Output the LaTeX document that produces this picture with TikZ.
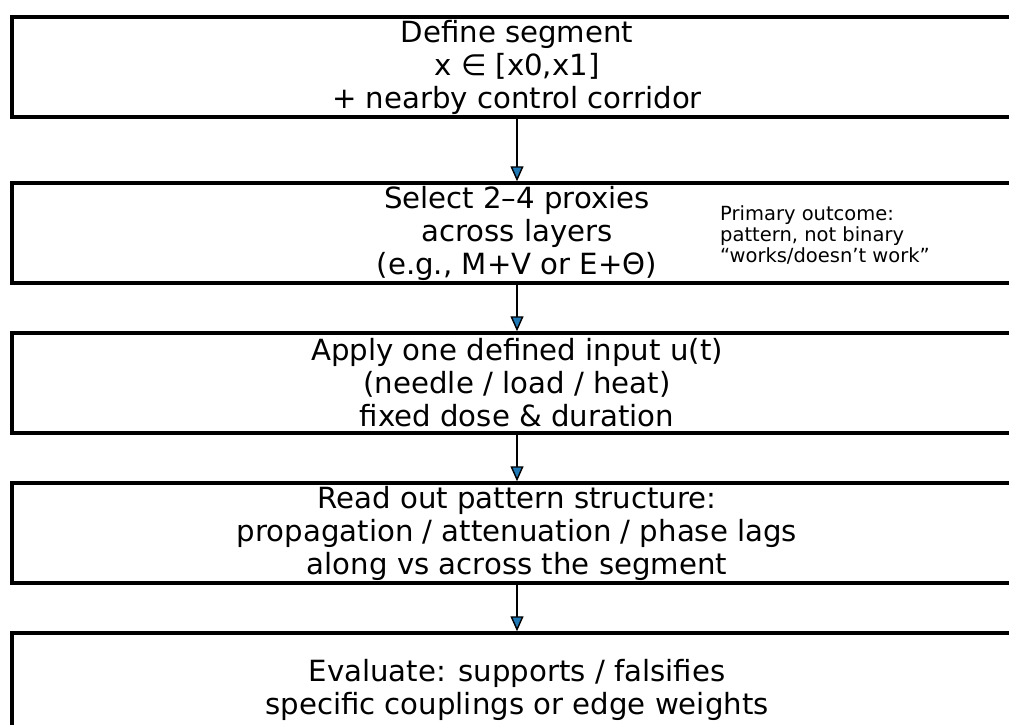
\documentclass[tikz,border=0pt]{standalone}
\usepackage{fontspec}
\setmainfont{DejaVu Sans}
\usetikzlibrary{arrows.meta,positioning}
\definecolor{tipblue}{HTML}{1F77B4}

\begin{document}
\begin{tikzpicture}[x=1pt,y=-1pt,line cap=butt,line join=miter,
  stepbox/.style={draw=black,line width=3.5pt,minimum width=1010pt,minimum height=100pt,
    inner sep=0pt,align=center,font=\fontsize{29.2}{33}\selectfont},
  note/.style={align=left,anchor=west,inner sep=0pt,font=\fontsize{19.5}{21}\selectfont},
  flow/.style={line width=2.6pt,-{Triangle[length=15pt,width=13pt,fill=tipblue,line width=1.4pt]}}]
\useasboundingbox (0,0) rectangle (1009,724);
\clip (0,0) rectangle (1009,724);
% the five steps
\node[stepbox] (segment) at (517,67) {Define segment\\x ∈ [x0,x1]\\+ nearby control corridor};
\node[stepbox] (proxies) at (517,233) {Select 2–4 proxies\\across layers\\(e.g., M+V or E+Θ)};
\node[stepbox] (input) at (517,383) {Apply one defined input u(t)\\(needle / load / heat)\\fixed dose \& duration};
\node[stepbox] (readout) at (517,533) {Read out pattern structure:\\propagation / attenuation / phase lags\\along vs across the segment};
\node[stepbox,minimum height=114pt] (evaluate) at (517,690) {Evaluate: supports / falsifies\\specific couplings or edge weights};
% side note
\node[note] (outcome) at (720,235) {Primary outcome:\\pattern, not binary\\“works/doesn’t work”};
% arrows
\draw[flow] (segment) -- (proxies);
\draw[flow] (proxies) -- (input);
\draw[flow] (input) -- (readout);
\draw[flow] (readout) -- (evaluate);
\end{tikzpicture}
\end{document}
